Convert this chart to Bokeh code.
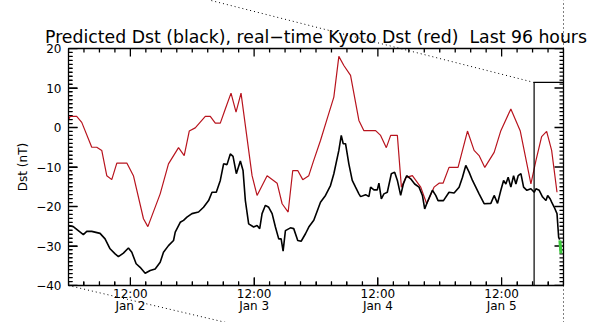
from bokeh.plotting import figure
from bokeh.models import LinearAxis, SingleIntervalTicker, FixedTicker, Range1d
from bokeh.embed import file_html
from bokeh.resources import INLINE

# ---- data (hours since Jan 2 00:00, Dst in nT) ----
pred_hours = [0.0, 0.93, 1.90, 2.88, 3.54, 4.51, 6.12, 7.09, 8.06, 9.04, 9.68, 10.65, 11.62, 12.28,
              13.12, 13.89, 14.87, 15.84, 16.81, 17.78, 18.42, 19.39, 20.37, 20.70, 21.67, 22.31,
              22.97, 23.94, 25.22, 26.19, 27.17, 27.83, 28.66, 29.44, 30.08, 30.74, 31.38, 31.91,
              32.55, 33.33, 33.85, 34.30, 34.94, 35.91, 36.57, 37.08, 37.54, 38.19, 38.83, 39.49,
              40.13, 40.77, 41.24, 41.62, 42.07, 43.04, 43.68, 44.46, 45.12, 45.96, 46.60, 47.57,
              48.87, 49.84, 50.81, 51.46, 52.43, 52.90, 53.28, 53.73, 54.37, 55.03, 55.67, 56.32,
              56.65, 57.62, 58.26, 58.59, 59.23, 59.89, 60.20, 60.67, 61.17, 61.83, 62.61, 63.25,
              63.78, 64.42, 64.94, 65.58, 66.36, 67.14, 67.98, 68.64, 69.08, 69.72, 70.58, 71.22,
              71.67, 72.72, 73.80, 74.78, 75.75, 76.41, 77.05, 77.69, 78.35, 78.99, 79.63, 80.61,
              81.91, 82.55, 83.21, 83.85, 84.38, 84.82, 85.27, 85.79, 86.32, 86.77, 87.21, 87.74,
              88.26, 88.90, 89.68, 90.32, 90.65, 91.29, 91.95, 92.60, 92.93, 93.43, 93.70, 94.21,
              94.74, 95.06, 95.26]
pred_dst = [-24.8, -25.1, -26.1, -27.1, -26.3, -26.3, -26.8, -28.2, -30.7, -32.0, -32.7, -31.8, -30.5, -31.6,
            -34.5, -35.4, -36.9, -36.2, -35.8, -34.1, -31.6, -29.9, -28.6, -26.5, -24.0, -23.5,
            -22.7, -21.8, -21.4, -20.2, -18.5, -16.4, -16.4, -13.4, -9.2, -9.4, -6.7, -7.3,
            -11.7, -8.5, -10.9, -18.5, -24.4, -25.2, -24.8, -25.6, -21.8, -19.7, -20.2, -21.8,
            -25.2, -28.2, -28.2, -31.3, -26.1, -25.4, -25.6, -28.6, -28.8, -26.9, -25.2, -23.5,
            -18.9, -17.2, -14.7, -11.7, -5.8, -2.0, -4.1, -4.1, -9.2, -13.4, -15.1, -16.8,
            -17.5, -17.0, -17.5, -15.1, -15.8, -15.8, -14.1, -18.1, -16.8, -16.4, -11.7, -11.3,
            -13.4, -17.2, -14.3, -12.2, -13.0, -14.3, -15.1, -17.2, -20.6, -18.5, -15.9, -17.2,
            -18.5, -18.5, -16.4, -16.6, -15.1, -12.6, -9.6, -11.3, -13.4, -15.1, -16.8, -19.3,
            -19.2, -17.2, -19.2, -15.9, -13.4, -14.3, -12.6, -15.1, -12.2, -14.3, -12.2, -11.7,
            -15.1, -15.9, -15.5, -16.4, -15.5, -15.9, -17.6, -18.5, -17.2, -18.1, -18.9, -20.2,
            -21.8, -27.8, -28.4]

kyoto_hours = [0.0, 0.29, 1.59, 2.57, 4.51, 5.48, 6.45, 7.42, 8.39, 9.37, 11.31, 12.59, 14.54, 15.39,
               17.78, 19.39, 21.34, 22.44, 23.42, 24.58, 26.53, 27.50, 28.47, 29.44, 30.41, 31.52,
               32.49, 33.46, 35.60, 36.57, 38.52, 40.46, 41.43, 42.60, 43.49, 44.46, 45.43, 46.60,
               47.51, 48.87, 50.23, 51.46, 52.43, 53.40, 54.70, 56.32, 57.29, 59.56, 60.53, 61.64,
               62.48, 63.78, 64.56, 65.39, 66.69, 68.31, 69.47, 70.89, 71.86, 72.64, 73.80, 75.55,
               77.38, 78.66, 79.63, 80.74, 82.55, 83.85, 85.79, 87.60, 89.68, 90.65, 91.76, 92.73,
               93.70, 94.74]
kyoto_dst = [1.8, 2.8, 2.8, 1.3, -5.0, -5.0, -5.8, -12.2, -13.2, -9.0, -9.0, -12.2, -23.1, -25.1,
             -16.8, -9.2, -5.1, -7.1, -0.9, -0.1, 2.8, 2.8, 1.1, 1.1, 4.7, 8.7,
             3.9, 8.7, -12.2, -17.2, -12.2, -14.1, -19.3, -21.4, -10.9, -10.9, -13.2, -12.2,
             -8.5, -3.3, 2.5, 7.7, 18.0, 15.7, 13.2, 1.8, -0.8, -0.8, -2.0, -5.1,
             -2.0, -2.0, -15.1, -12.7, -12.2, -15.1, -19.3, -15.1, -14.1, -14.1, -10.1, -10.1,
             -0.9, -5.8, -7.1, -10.1, -6.3, -0.8, 4.7, -0.8, -14.3, -8.4, -2.3, -1.0,
             -5.8, -16.4]

forecast_hours = [95.3, 95.5]
forecast_dst = [-28.6, -31.9]

box_start_hour = 90.3
box_top_dst = 11.4

tick_hours = [12, 36, 60, 84]
tick_labels = ["12:00\nJan 2", "12:00\nJan 3", "12:00\nJan 4", "12:00\nJan 5"]
minor_hours = [float(h) for h in range(0, 97, 3)]
y_major = [float(v) for v in range(-40, 21, 10)]
y_minor = [float(v) for v in range(-40, 21, 1)]

x_min, x_max = 0.0, 96.0
y_min, y_max = -40.0, 20.0

# connector line far ends (outside the frame)
conn_top = (27.5, 32.2)
conn_bottom = (37.2, -51.4)

FONT = "DejaVu Sans"
FW, FH = 495, 237          # frame size in px
PX_X = FW / (x_max - x_min)
PX_Y = FH / (y_max - y_min)
NAN = float("nan")

p = figure(frame_width=FW, frame_height=FH, output_backend="svg", toolbar_location=None,
           x_range=Range1d(x_min, x_max), y_range=Range1d(y_min, y_max),
           min_border_left=68, min_border_right=31, min_border_top=48, min_border_bottom=37,
           x_axis_type=None, y_axis_type=None,
           title="Predicted Dst (black), real\u2212time Kyoto Dst (red)\u00a0\u00a0Last 96 hours")
p.background_fill_color = "white"
p.border_fill_color = "white"
p.outline_line_color = "black"
p.outline_line_width = 1.3
p.title.text_font = FONT
p.title.text_font_size = "17.3px"
p.title.text_font_style = "normal"
p.title.text_color = "black"
p.title.align = "center"
p.title.standoff = 4

xb = LinearAxis(ticker=FixedTicker(ticks=tick_hours, minor_ticks=minor_hours))
xb.major_label_overrides = {h: t for h, t in zip(tick_hours, tick_labels)}
xb.major_tick_in = 8; xb.major_tick_out = 0; xb.minor_tick_in = 4; xb.minor_tick_out = 0
xb.major_tick_line_color = "black"; xb.minor_tick_line_color = "black"
xb.axis_line_color = "black"
xb.major_label_text_font = FONT
xb.major_label_text_font_size = "12px"
xb.major_label_text_color = "black"
xb.major_label_text_line_height = 0.9
xb.major_label_standoff = 1
p.add_layout(xb, "below")

yl = LinearAxis(ticker=SingleIntervalTicker(interval=10, num_minor_ticks=10))
yl.major_tick_in = 9; yl.major_tick_out = 0; yl.minor_tick_in = 4; yl.minor_tick_out = 0
yl.major_tick_line_color = "black"; yl.minor_tick_line_color = "black"
yl.axis_line_color = "black"
yl.major_label_text_font = FONT
yl.major_label_text_font_size = "12px"
yl.major_label_text_color = "black"
yl.major_label_standoff = 7
yl.axis_label = "Dst (nT)"
yl.axis_label_text_font = FONT
yl.axis_label_text_font_size = "12px"
yl.axis_label_text_font_style = "normal"
yl.axis_label_text_color = "black"
yl.axis_label_standoff = 3
p.add_layout(yl, "left")

# inward tick marks on all four sides: one broken polyline (NaN gaps)
tx, ty = [], []
for hours, length in ((minor_hours, 4), (tick_hours, 8)):
    d = length / PX_Y
    for h in hours:
        tx += [h, h, NAN, h, h, NAN]
        ty += [y_min, y_min + d, NAN, y_max, y_max - d, NAN]
for vals, length in ((y_minor, 4), (y_major, 9)):
    d = length / PX_X
    for v in vals:
        tx += [x_min, x_min + d, NAN, x_max, x_max - d, NAN]
        ty += [v, v, NAN, v, v, NAN]
p.line(tx, ty, line_color="black", line_width=1.3)

# curves
p.line(kyoto_hours, kyoto_dst, line_color="#b8141e", line_width=1.2)
p.line(pred_hours, pred_dst, line_color="black", line_width=1.6)
p.line(forecast_hours, forecast_dst, line_color="#3ccc3c", line_width=3)

# box marking latest interval
p.line([box_start_hour, box_start_hour, x_max], [y_min, box_top_dst, box_top_dst],
       line_color="black", line_width=1.2)

# dotted connector lines (extend outside the frame)
p.segment([box_start_hour, x_min, x_max, x_max],
          [box_top_dst, y_min, y_max, y_min],
          [conn_top[0], conn_bottom[0], x_max, x_max],
          [conn_top[1], conn_bottom[1], conn_top[1], conn_bottom[1]],
          line_color="black", line_width=1, line_dash="1 3", level="overlay")

open("out.html", "w").write(file_html(p, INLINE))
